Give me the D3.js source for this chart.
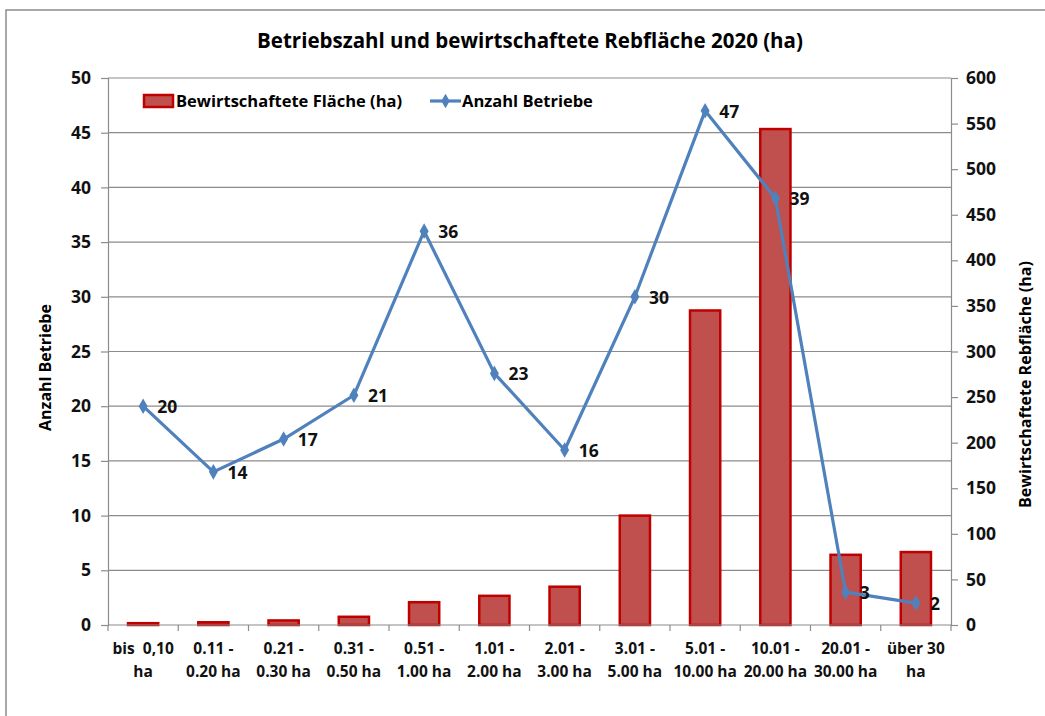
<!DOCTYPE html>
<html>
<head>
<meta charset="utf-8">
<script src="https://cdn.jsdelivr.net/npm/d3@7"></script>
<style>
body { margin: 0; background: #fff; }
text { font-family: "Open Sans", "DejaVu Sans", sans-serif; }
</style>
</head>
<body>
<script>
var categories = [["bis  0,10", "ha"], ["0.11 -", "0.20 ha"], ["0.21 -", "0.30 ha"], ["0.31 -", "0.50 ha"],
    ["0.51 -", "1.00 ha"], ["1.01 -", "2.00 ha"], ["2.01 -", "3.00 ha"], ["3.01 -", "5.00 ha"],
    ["5.01 -", "10.00 ha"], ["10.01 -", "20.00 ha"], ["20.01 -", "30.00 ha"], ["über 30", "ha"]];
var flaeche = [2, 3, 5, 9, 25, 32, 42, 120, 345, 544, 77, 80];
var betriebe = [20, 14, 17, 21, 36, 23, 16, 30, 47, 39, 3, 2];
var leftTicks = [0, 5, 10, 15, 20, 25, 30, 35, 40, 45, 50];
var rightTicks = [0, 50, 100, 150, 200, 250, 300, 350, 400, 450, 500, 550, 600];

var width = 1045, height = 716;
var margin = {top: 78, right: 94, bottom: 91, left: 108};

var svg = d3.select("body").append("svg")
    .attr("width", width)
    .attr("height", height);

// outer frame (runs off the right and bottom edge)
svg.append("rect")
    .attr("x", 6).attr("y", 10)
    .attr("width", width + 20).attr("height", height + 20)
    .attr("fill", "none").attr("stroke", "#8c8c8c").attr("stroke-width", 1.5);

var x = d3.scaleBand()
    .domain(d3.range(categories.length))
    .range([margin.left, width - margin.right])
    .paddingInner(0.57).paddingOuter(0.285);

var xc = function (i) { return x(i) + x.bandwidth() / 2; };

var yL = d3.scaleLinear().domain([0, 50]).range([height - margin.bottom, margin.top]);
var yR = d3.scaleLinear().domain([0, 600]).range([height - margin.bottom, margin.top]);

//title
svg.append("text")
    .attr("x", 530).attr("y", 48)
    .attr("text-anchor", "middle")
    .style("font-size", "20.5px").style("font-weight", "bold")
    .text("Betriebszahl und bewirtschaftete Rebfläche 2020 (ha)");

//gridlines
svg.append("g").selectAll("line")
    .data(leftTicks.slice(1))
    .enter().append("line")
    .attr("x1", margin.left).attr("x2", width - margin.right)
    .attr("y1", function (d) { return yL(d); })
    .attr("y2", function (d) { return yL(d); })
    .attr("stroke", "#8c8c8c").attr("stroke-width", 1.2);

//left axis
var axL = svg.append("g")
    .attr("transform", "translate(" + margin.left + ",0)")
    .call(d3.axisLeft(yL).tickValues(leftTicks).tickSize(7).tickPadding(10));
//right axis
var axR = svg.append("g")
    .attr("transform", "translate(" + (width - margin.right) + ",0)")
    .call(d3.axisRight(yR).tickValues(rightTicks).tickSize(7).tickPadding(8));

[axL, axR].forEach(function (a) {
    a.select(".domain").attr("stroke", "#8c8c8c").attr("stroke-width", 1.2);
    a.selectAll(".tick line").attr("stroke", "#8c8c8c").attr("stroke-width", 1.2);
    a.selectAll(".tick text").style("font-size", "17.5px").style("font-weight", "bold").attr("fill", "#111");
});

//bars
svg.append("g").selectAll("rect")
    .data(flaeche)
    .enter().append("rect")
    .attr("x", function (d, i) { return x(i); })
    .attr("y", function (d) { return yR(d); })
    .attr("width", x.bandwidth())
    .attr("height", function (d) { return yR(0) - yR(d); })
    .attr("fill", "#c0504d")
    .attr("stroke", "#c00000")
    .attr("stroke-width", 2.5);

//x axis baseline and ticks between categories
var y0 = yL(0);
svg.append("line")
    .attr("x1", margin.left).attr("x2", width - margin.right)
    .attr("y1", y0).attr("y2", y0)
    .attr("stroke", "#8c8c8c").attr("stroke-width", 1.2);
var step = x.step();
svg.append("g").selectAll("line")
    .data(d3.range(categories.length + 1))
    .enter().append("line")
    .attr("x1", function (i) { return margin.left + i * step; })
    .attr("x2", function (i) { return margin.left + i * step; })
    .attr("y1", y0).attr("y2", y0 + 6)
    .attr("stroke", "#8c8c8c").attr("stroke-width", 1.2);

//category labels
var catG = svg.append("g").selectAll("text")
    .data(categories)
    .enter().append("text")
    .attr("text-anchor", "middle")
    .style("font-size", "15.5px").style("font-weight", "bold")
    .attr("fill", "#111");
catG.append("tspan")
    .attr("x", function (d, i) { return xc(i); })
    .attr("y", y0 + 29)
    .attr("xml:space", "preserve")
    .text(function (d) { return d[0]; });
catG.append("tspan")
    .attr("x", function (d, i) { return xc(i); })
    .attr("y", y0 + 52)
    .text(function (d) { return d[1]; });

//line
var line = d3.line()
    .x(function (d, i) { return xc(i); })
    .y(function (d) { return yL(d); });
svg.append("path")
    .datum(betriebe)
    .attr("d", line)
    .attr("fill", "none")
    .attr("stroke", "#4f81bd")
    .attr("stroke-width", 3.2)
    .attr("stroke-linejoin", "round");

svg.append("g").selectAll("path")
    .data(betriebe)
    .enter().append("path")
    .attr("d", d3.symbol().type(d3.symbolDiamond).size(70))
    .attr("transform", function (d, i) { return "translate(" + xc(i) + "," + yL(d) + ")"; })
    .attr("fill", "#4f81bd");

//data labels
svg.append("g").selectAll("text")
    .data(betriebe)
    .enter().append("text")
    .attr("x", function (d, i) { return xc(i) + 14; })
    .attr("y", function (d) { return yL(d) + 7; })
    .style("font-size", "17.5px").style("font-weight", "bold")
    .attr("fill", "#111")
    .text(function (d) { return d; });

//axis titles
svg.append("text")
    .attr("transform", "translate(51," + ((margin.top + y0) / 2 + 16) + ") rotate(-90)")
    .attr("text-anchor", "middle")
    .style("font-size", "16px").style("font-weight", "bold")
    .text("Anzahl Betriebe");
svg.append("text")
    .attr("transform", "translate(1031," + ((margin.top + y0) / 2 + 33) + ") rotate(-90)")
    .attr("text-anchor", "middle")
    .style("font-size", "16px").style("font-weight", "bold")
    .text("Bewirtschaftete Rebfläche (ha)");

//legend
var lg = svg.append("g");
lg.append("rect")
    .attr("x", 144).attr("y", 95).attr("width", 29).attr("height", 12)
    .attr("fill", "#c0504d").attr("stroke", "#c00000").attr("stroke-width", 2.5);
lg.append("text")
    .attr("x", 176).attr("y", 107)
    .style("font-size", "16.5px").style("font-weight", "bold")
    .text("Bewirtschaftete Fläche (ha)");
lg.append("line")
    .attr("x1", 430).attr("x2", 461).attr("y1", 101).attr("y2", 101)
    .attr("stroke", "#4f81bd").attr("stroke-width", 3.2);
lg.append("path")
    .attr("d", d3.symbol().type(d3.symbolDiamond).size(60))
    .attr("transform", "translate(445.5,101)")
    .attr("fill", "#4f81bd");
lg.append("text")
    .attr("x", 462).attr("y", 107)
    .style("font-size", "16.5px").style("font-weight", "bold")
    .text("Anzahl Betriebe");
</script>
</body>
</html>
